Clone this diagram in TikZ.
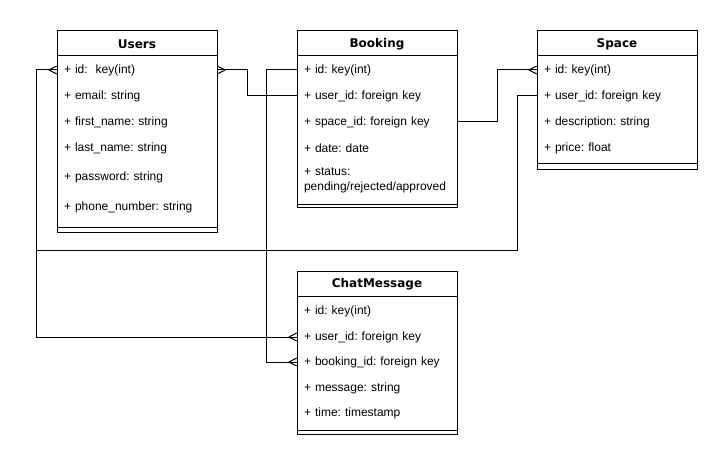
\documentclass[tikz,border=0pt]{standalone}
\usepackage{fontspec}
\setmainfont{Liberation Sans}
\newfontfamily\titlefont{DejaVu Sans}
\usetikzlibrary{calc}
\frenchspacing
\tikzset{
  entity/.style={draw=black, line width=1pt, fill=white},
  sep/.style={line width=1pt},
  row/.style={inner xsep=7pt, inner ysep=0pt, text width=146pt, align=left, minimum height=20pt, font=\frenchspacing\fontsize{12}{15}\selectfont},
  title/.style={font=\titlefont\bfseries\fontsize{12}{14}\selectfont, inner sep=0pt},
  conn/.style={draw=black, line width=1pt},
}
\newcommand{\crowL}[1]{\draw[conn] ($(#1)+(-8,0)$) -- ($(#1)+(0,-4)$) ($(#1)+(-8,0)$) -- ($(#1)+(0,4)$);}
\newcommand{\crowR}[1]{\draw[conn] ($(#1)+(8,0)$) -- ($(#1)+(0,-4)$) ($(#1)+(8,0)$) -- ($(#1)+(0,4)$);}
\begin{document}
\begin{tikzpicture}[x=1pt,y=-1pt]
\useasboundingbox (0,0) rectangle (728,465);
\fill[white] (0,0) rectangle (728,465);
% Users
\draw[entity] (57,31) rectangle (217,232);
\draw[sep] (57,56) -- (217,56);
\draw[sep] (57,228) -- (217,228);
\node[title] (u-t) at (137,44) {Users};
\node[row] (u-id) at (137,70) {+ id:\ \ key(int)};
\node[row] (u-em) at (137,96) {+ email: string};
\node[row] (u-fn) at (137,122) {+ first\_name: string};
\node[row] (u-ln) at (137,148) {+ last\_name: string};
\node[row] (u-pw) at (137,177) {+ password: string};
\node[row] (u-ph) at (137,207) {+ phone\_number: string};
% Booking
\draw[entity] (297,31) rectangle (457,208);
\draw[sep] (297,56) -- (457,56);
\draw[sep] (297,205) -- (457,205);
\node[title] (b-t) at (377,44) {Booking};
\node[row] (b-id) at (377,70) {+ id: key(int)};
\node[row] (b-uid) at (377,96) {+ user\_id: foreign key};
\node[row] (b-sid) at (377,122) {+ space\_id: foreign key};
\node[row] (b-dt) at (377,148) {+ date: date};
\node[row] (b-st) at (377,180.5) {+ status:\\pending/rejected/approved};
% Space
\draw[entity] (537,31) rectangle (697,170);
\draw[sep] (537,56) -- (697,56);
\draw[sep] (537,164) -- (697,164);
\node[title] (s-t) at (617,44) {Space};
\node[row] (s-id) at (617,70) {+ id: key(int)};
\node[row] (s-uid) at (617,96) {+ user\_id: foreign key};
\node[row] (s-ds) at (617,122) {+ description: string};
\node[row] (s-pr) at (617,148) {+ price: float};
% ChatMessage
\draw[entity] (297,271) rectangle (457,434);
\draw[sep] (297,296) -- (457,296);
\draw[sep] (297,430) -- (457,430);
\node[title] (c-t) at (377,284) {ChatMessage};
\node[row] (c-id) at (377,311) {+ id: key(int)};
\node[row] (c-uid) at (377,337) {+ user\_id: foreign key};
\node[row] (c-bid) at (377,362) {+ booking\_id: foreign key};
\node[row] (c-ms) at (377,388) {+ message: string};
\node[row] (c-tm) at (377,413) {+ time: timestamp};
% connectors
\coordinate (j) at (37,250);
\draw[conn] (u-id.west) -- ++(-20,0) |- (c-uid.west);
\draw[conn] (s-uid.west) -- ++(-19,0) |- (j);
\draw[conn] (u-id.east) -- ++(30,0) |- (b-uid.west);
\draw[conn] (b-id.west) -- ++(-30,0) |- (c-bid.west);
\draw[conn] (b-sid.east) -- ++(40,0) |- (s-id.west);
\crowL{u-id.west}
\crowR{u-id.east}
\crowL{c-uid.west}
\crowL{c-bid.west}
\crowL{s-id.west}
\end{tikzpicture}
\end{document}
